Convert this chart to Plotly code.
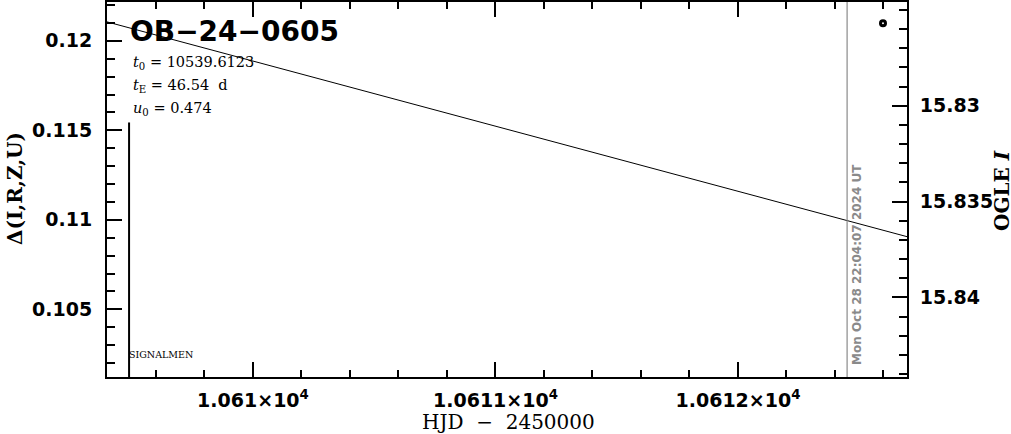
import plotly.graph_objects as go

# ---- data ----
model_hjd = [10609.398, 10610.0, 10611.0, 10612.0, 10612.697]
model_delta = [0.12106, 0.11887, 0.11523, 0.11159, 0.10906]

obs_hjd = [10612.598]
obs_mag = [15.8257]

signalmen_hjd = 10609.489
signalmen_top = 0.11544
now_hjd = 10612.45

x_range = [10609.398, 10612.697]
y_range = [0.10122, 0.12217]
y2_range = [15.84415, 15.82459]

x_tickvals = [10610, 10611, 10612]
x_ticktext = ["1.061×10<sup>4</sup>", "1.0611×10<sup>4</sup>", "1.0612×10<sup>4</sup>"]
y_tickvals = [0.105, 0.11, 0.115, 0.12]
y_ticktext = ["0.105", "0.11", "0.115", "0.12"]
y2_tickvals = [15.83, 15.835, 15.84]
y2_ticktext = ["15.83", "15.835", "15.84"]

event_name = "OB−24−0605"
param_lines = ["<i>t</i><sub>0</sub> = 10539.6123",
               "<i>t</i><sub>E</sub> = 46.54  d",
               "<i>u</i><sub>0</sub> = 0.474"]
date_text = "Mon Oct 28 22:04:07 2024 UT"

W, H = 1011, 434
L, R, T, B = 107, 907, 2, 377

fig = go.Figure()
fig.add_trace(go.Scatter(x=model_hjd, y=model_delta, mode="lines",
                         line=dict(color="black", width=1), showlegend=False, hoverinfo="skip"))
fig.add_trace(go.Scatter(x=[signalmen_hjd, signalmen_hjd], y=[signalmen_top, y_range[0]], mode="lines",
                         line=dict(color="black", width=2), showlegend=False, hoverinfo="skip"))
fig.add_trace(go.Scatter(x=obs_hjd, y=obs_mag, mode="markers", yaxis="y2",
                         marker=dict(symbol="circle-open", size=5, color="black", line=dict(width=3)),
                         showlegend=False))

fig.add_shape(type="line", xref="x", yref="paper", x0=now_hjd, x1=now_hjd, y0=0, y1=1,
              line=dict(color="#8a8a8a", width=1.2))

tickfont = dict(family="DejaVu Sans", size=19, color="black", weight="bold")
fig.update_layout(
    width=W, height=H,
    margin=dict(l=L, r=W - R, t=T, b=H - B, pad=0, autoexpand=False),
    plot_bgcolor="white", paper_bgcolor="white",
    xaxis=dict(range=x_range, tickvals=x_tickvals, ticktext=x_ticktext, ticks="inside",
               ticklen=15, tickwidth=2, tickcolor="black", showline=True, linewidth=2,
               linecolor="black", mirror="ticks", showgrid=False, zeroline=False,
               tickfont=tickfont, ticklabelstandoff=5, automargin=False,
               minor=dict(tick0=10610, dtick=0.2, ticks="inside", ticklen=7, tickwidth=2,
                          tickcolor="black", showgrid=False)),
    yaxis=dict(range=y_range, tickvals=y_tickvals, ticktext=y_ticktext, ticks="inside",
               ticklen=15, tickwidth=2, tickcolor="black", showline=True, linewidth=2,
               linecolor="black", mirror=True, showgrid=False, zeroline=False,
               tickfont=tickfont, ticklabelstandoff=9, automargin=False,
               minor=dict(tick0=0.1, dtick=0.001, ticks="inside", ticklen=8, tickwidth=2,
                          tickcolor="black", showgrid=False)),
    yaxis2=dict(range=y2_range, overlaying="y", side="right", tickvals=y2_tickvals,
                ticktext=y2_ticktext, ticks="inside", ticklen=15, tickwidth=2, tickcolor="black",
                showline=True, linewidth=2, linecolor="black", showgrid=False, zeroline=False,
                tickfont=tickfont, ticklabelstandoff=7, automargin=False,
                minor=dict(tick0=15.82, dtick=0.001, ticks="inside", ticklen=8, tickwidth=2,
                           tickcolor="black", showgrid=False)),
)

def px(x):
    return (x - L) / (R - L)

def py(y):
    return (B - y) / (B - T)

ann = []
ann.append(dict(text=event_name, x=px(128), y=py(32), xanchor="left", yanchor="middle",
                font=dict(family="DejaVu Sans", size=28, color="black", weight="bold")))
for i, (t, yy) in enumerate(zip(param_lines, [63, 86, 109])):
    ann.append(dict(text=t, x=px(131), y=py(yy), xanchor="left", yanchor="middle", align="left",
                    font=dict(family="DejaVu Serif", size=14.5, color="black")))
ann.append(dict(text="SIGNALMEN", x=px(127), y=py(354), xanchor="left", yanchor="middle",
                font=dict(family="DejaVu Serif", size=9.5, color="black")))
ann.append(dict(text=date_text, x=px(857), y=py(265), xanchor="center", yanchor="middle",
                textangle=-90, font=dict(family="DejaVu Sans", size=12, color="#8a8a8a", weight="bold")))
ann.append(dict(text="Δ(I,R,Z,U)", x=px(15), y=py(189), xanchor="center", yanchor="middle",
                textangle=-90, font=dict(family="DejaVu Serif", size=20, color="black", weight="bold")))
ann.append(dict(text="OGLE <i>I</i>", x=px(1002), y=py(190), xanchor="center", yanchor="middle",
                textangle=-90, font=dict(family="DejaVu Serif", size=20, color="black", weight="bold")))
ann.append(dict(text="HJD&nbsp; −&nbsp; 2450000", x=px(509), y=py(422), xanchor="center", yanchor="middle",
                font=dict(family="DejaVu Serif", size=20, color="black")))
for a in ann:
    a.update(xref="paper", yref="paper", showarrow=False)
fig.update_layout(annotations=ann)

fig.write_html("out.html", config={"displayModeBar": False},
               post_script="document.body.style.margin='0';document.body.style.overflow='hidden';")
